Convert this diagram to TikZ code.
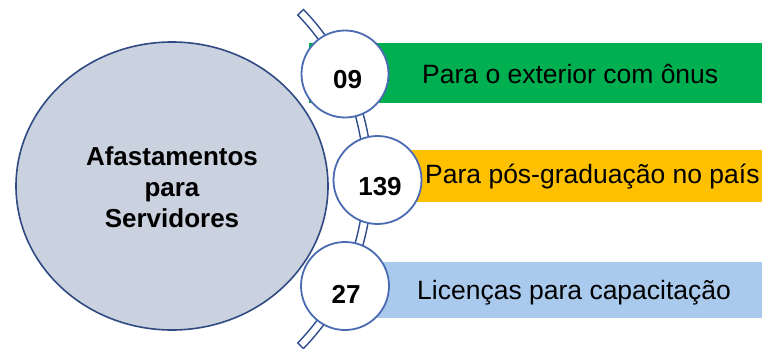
\documentclass[tikz,border=0pt]{standalone}
\usepackage{fontspec}
\setmainfont{Liberation Sans}
\usetikzlibrary{calc,shapes.geometric}
\definecolor{bargreen}{HTML}{00B050}
\definecolor{baryellow}{HTML}{FFC000}
\definecolor{barblue}{HTML}{A9CAED}
\definecolor{ellfill}{HTML}{CBD2DF}
\definecolor{elldraw}{HTML}{2F4A82}
\definecolor{circdraw}{HTML}{4A6BB2}
\definecolor{arcdraw}{HTML}{2F4D8E}
\tikzset{
  numcircle/.style={circle, draw=circdraw, line width=1.8pt, fill=white, minimum size=#1, inner sep=0pt},
  numtext/.style={anchor=base, font=\fontsize{26}{30}\selectfont\bfseries, inner sep=0pt},
  bartext/.style={anchor=base west, font=\fontsize{26.5}{30}\selectfont, inner sep=0pt}
}
\begin{document}
\begin{tikzpicture}[x=1pt,y=-1pt]
\useasboundingbox (0,0) rectangle (762,348);
% bars
\fill[bargreen] (309,43) rectangle (762,103);
\fill[baryellow] (378,150) rectangle (762,202);
\fill[barblue] (345,262) rectangle (762,318);
% arc band
\coordinate (arcc) at (128,179);
\path[fill=white, draw=arcdraw, line width=1.4pt]
  ($(arcc)+(-44:236)$) arc[start angle=-44, end angle=44, radius=236]
  -- ($(arcc)+(44:244)$) arc[start angle=44, end angle=-44, radius=244] -- cycle;
% big ellipse
\node[ellipse, draw=elldraw, line width=1.6pt, fill=ellfill, minimum width=312pt, minimum height=288pt, inner sep=0pt] (main) at (172,186) {};
\node[align=center, font=\fontsize{26}{31}\selectfont\bfseries, inner sep=0pt] (maintext) at (172,187) {Afastamentos\\para\\Servidores};
% circles
\node[numcircle=87pt] (c1) at (345,74) {};
\node[numcircle=88pt] (c2) at (377.5,180) {};
\node[numcircle=88pt] (c3) at (345,286) {};
\node[numtext] (n1) at (347.5,88.3) {09};
\node[numtext] (n2) at (380,195) {139};
\node[numtext] (n3) at (346,303) {27};
% bar texts
\node[bartext] (t1) at (422,83) {Para o exterior com ônus};
\node[bartext] (t2) at (425,183.5) {Para pós-graduação no país};
\node[bartext] (t3) at (417,299) {Licenças para capacitação};
\end{tikzpicture}
\end{document}
